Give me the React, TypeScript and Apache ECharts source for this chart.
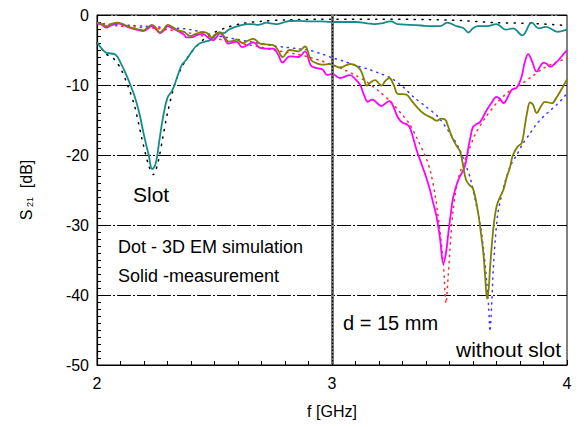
import React, { useEffect, useRef } from "react";
import * as echarts from "echarts";

// Slot – measurement (teal, solid)
const slotMeasF = [2.0, 2.02, 2.04, 2.06, 2.08, 2.1, 2.12, 2.14, 2.16, 2.18, 2.2, 2.22, 2.235, 2.25, 2.265, 2.28, 2.3, 2.32, 2.34, 2.36, 2.38, 2.4, 2.42, 2.44, 2.46, 2.48, 2.5, 2.52, 2.54, 2.56, 2.58, 2.6, 2.62, 2.64, 2.66, 2.68, 2.7, 2.72, 2.74, 2.76, 2.78, 2.8, 2.82, 2.86, 2.9, 2.95, 3.0, 3.05, 3.1, 3.15, 3.18, 3.21, 3.25, 3.28, 3.33, 3.38, 3.42, 3.46, 3.49, 3.53, 3.56, 3.58, 3.6, 3.62, 3.66, 3.7, 3.74, 3.77, 3.81, 3.85, 3.88, 3.91, 3.96, 4.0];
const slotMeasDb = [-3.9, -4.8, -5.4, -5.5, -5.7, -6.8, -8.2, -9.8, -11.6, -14.0, -17.2, -20.0, -22.0, -21.2, -18.0, -14.8, -11.8, -10.8, -9.0, -7.2, -6.4, -5.4, -4.5, -4.0, -3.8, -3.6, -3.0, -2.5, -2.6, -2.1, -1.8, -1.6, -1.4, -1.3, -1.3, -1.4, -1.3, -1.1, -1.2, -1.3, -1.2, -1.0, -0.86, -0.85, -0.9, -0.9, -1.0, -1.0, -1.0, -1.2, -1.3, -1.2, -0.9, -1.3, -1.4, -1.5, -1.6, -1.6, -1.1, -1.6, -1.9, -2.5, -1.9, -1.6, -1.6, -1.3, -2.1, -1.9, -2.9, -1.1, -1.9, -1.7, -2.4, -2.1];

// Slot – 3D EM simulation (black, dotted)
const slotSimF = [2.0, 2.04, 2.07, 2.1, 2.13, 2.16, 2.19, 2.22, 2.24, 2.26, 2.28, 2.3, 2.33, 2.36, 2.4, 2.45, 2.5, 2.55, 2.62, 2.7, 2.8, 3.0, 3.2, 3.4, 3.55, 3.7, 3.85, 4.0];
const slotSimDb = [-4.0, -5.6, -6.2, -7.6, -10.0, -13.0, -17.5, -21.5, -22.8, -21.0, -17.5, -14.0, -10.0, -7.5, -5.4, -3.6, -2.5, -1.8, -1.2, -0.9, -0.7, -0.6, -0.6, -0.65, -0.8, -1.1, -1.2, -1.5];

// Without slot – measurement (olive, solid)
const wsMeasF = [2.0, 2.02, 2.04, 2.06, 2.085, 2.11, 2.13, 2.155, 2.18, 2.197, 2.215, 2.233, 2.25, 2.268, 2.285, 2.3, 2.32, 2.346, 2.37, 2.396, 2.42, 2.45, 2.47, 2.488, 2.505, 2.523, 2.54, 2.56, 2.58, 2.594, 2.62, 2.64, 2.665, 2.694, 2.72, 2.75, 2.77, 2.79, 2.82, 2.857, 2.885, 2.91, 2.935, 2.96, 2.99, 3.034, 3.077, 3.1, 3.12, 3.135, 3.148, 3.165, 3.183, 3.2, 3.21, 3.227, 3.244, 3.26, 3.282, 3.3, 3.318, 3.34, 3.36, 3.38, 3.4, 3.425, 3.445, 3.465, 3.48, 3.495, 3.51, 3.53, 3.545, 3.555, 3.57, 3.585, 3.6, 3.62, 3.635, 3.644, 3.652, 3.66, 3.667, 3.672, 3.686, 3.7, 3.715, 3.729, 3.745, 3.757, 3.77, 3.79, 3.807, 3.82, 3.83, 3.843, 3.855, 3.871, 3.89, 3.906, 3.935, 3.955, 3.97, 3.985, 4.0];
const wsMeasDb = [-1.1, -1.3, -1.6, -1.3, -1.1, -1.3, -1.6, -1.9, -2.1, -2.2, -1.8, -1.4, -1.8, -2.5, -2.0, -1.4, -1.7, -2.2, -2.4, -3.0, -2.7, -2.4, -2.6, -3.2, -2.7, -2.5, -3.0, -3.8, -3.7, -3.5, -4.0, -3.7, -3.4, -4.1, -4.2, -4.3, -5.0, -6.0, -5.0, -5.2, -4.5, -6.4, -6.9, -7.1, -7.0, -7.5, -7.0, -7.2, -7.8, -9.0, -10.1, -9.6, -9.3, -9.8, -10.1, -9.4, -9.0, -9.8, -11.3, -11.3, -11.4, -12.3, -13.1, -13.8, -14.3, -14.7, -15.1, -14.8, -14.9, -16.0, -17.4, -18.7, -19.5, -21.0, -23.5, -24.3, -24.8, -27.9, -31.5, -34.0, -37.5, -40.5, -39.0, -36.4, -30.7, -27.4, -26.0, -25.0, -23.0, -21.8, -20.0, -18.8, -18.3, -16.0, -14.0, -12.5, -12.8, -14.0, -13.0, -12.4, -12.6, -11.8, -11.0, -10.1, -9.2];

// Without slot – simulation (blue, dotted)
const wsSimF = [2.0, 2.05, 2.1, 2.15, 2.2, 2.25, 2.3, 2.35, 2.4, 2.45, 2.5, 2.55, 2.6, 2.65, 2.7, 2.75, 2.8, 2.85, 2.9, 2.95, 3.0, 3.05, 3.1, 3.15, 3.2, 3.25, 3.3, 3.35, 3.4, 3.45, 3.5, 3.54, 3.57, 3.59, 3.61, 3.63, 3.645, 3.658, 3.667, 3.672, 3.68, 3.686, 3.695, 3.705, 3.72, 3.735, 3.76, 3.786, 3.81, 3.843, 3.87, 3.9, 3.93, 3.956, 3.98, 4.0];
const wsSimDb = [-1.2, -1.3, -1.4, -1.5, -1.6, -1.7, -1.8, -1.9, -2.1, -2.5, -2.9, -3.2, -3.5, -3.8, -4.1, -4.4, -4.6, -4.8, -5.0, -5.5, -6.1, -6.6, -7.2, -7.7, -8.3, -9.0, -10.2, -11.8, -13.1, -14.5, -16.8, -19.0, -21.5, -23.5, -26.5, -29.8, -33.5, -38.0, -42.0, -45.2, -41.0, -36.4, -32.0, -28.5, -26.0, -24.0, -21.5, -20.0, -18.5, -16.9, -15.6, -14.5, -13.6, -12.8, -12.0, -11.2];

// d = 15 mm – measurement (magenta, solid)
const d15MeasF = [2.0, 2.02, 2.04, 2.06, 2.085, 2.11, 2.13, 2.155, 2.18, 2.197, 2.215, 2.233, 2.25, 2.268, 2.285, 2.3, 2.32, 2.346, 2.37, 2.38, 2.4, 2.43, 2.45, 2.475, 2.495, 2.51, 2.523, 2.54, 2.56, 2.58, 2.594, 2.618, 2.64, 2.665, 2.694, 2.72, 2.75, 2.77, 2.79, 2.82, 2.857, 2.885, 2.91, 2.935, 2.96, 2.98, 3.0, 3.034, 3.077, 3.1, 3.12, 3.135, 3.153, 3.17, 3.18, 3.21, 3.244, 3.26, 3.28, 3.3, 3.318, 3.33, 3.345, 3.36, 3.38, 3.4, 3.417, 3.43, 3.445, 3.46, 3.474, 3.485, 3.495, 3.505, 3.516, 3.537, 3.56, 3.57, 3.58, 3.59, 3.6, 3.615, 3.63, 3.658, 3.68, 3.7, 3.715, 3.73, 3.75, 3.765, 3.786, 3.807, 3.82, 3.835, 3.85, 3.871, 3.885, 3.9, 3.915, 3.928, 3.95, 3.97, 3.985, 4.0];
const d15MeasDb = [-1.2, -1.4, -1.8, -1.5, -1.2, -1.4, -1.7, -2.0, -2.2, -2.3, -2.0, -1.6, -2.0, -2.6, -2.2, -1.6, -1.9, -2.3, -2.8, -3.2, -3.2, -2.8, -2.7, -3.3, -3.6, -3.1, -2.6, -3.2, -4.1, -3.9, -3.8, -4.6, -4.3, -3.9, -4.7, -4.8, -4.8, -5.6, -6.8, -5.9, -6.0, -5.2, -7.2, -7.6, -7.8, -8.6, -8.4, -9.0, -8.6, -9.2, -10.0, -11.3, -12.4, -12.1, -12.2, -13.0, -12.3, -13.0, -14.6, -15.4, -15.6, -16.0, -17.5, -19.3, -21.2, -23.1, -25.0, -26.8, -28.8, -32.0, -35.5, -34.0, -31.2, -28.5, -26.0, -23.6, -22.1, -21.0, -19.0, -17.3, -16.0, -15.6, -15.3, -13.6, -12.5, -11.7, -12.0, -12.6, -11.6, -10.7, -10.4, -8.8, -6.8, -5.6, -6.5, -8.1, -7.4, -6.8, -7.0, -7.4, -6.9, -6.2, -5.6, -5.0];

// d = 15 mm – simulation (red, dotted)
const d15SimF = [2.0, 2.05, 2.1, 2.15, 2.2, 2.25, 2.3, 2.35, 2.4, 2.45, 2.5, 2.55, 2.6, 2.65, 2.7, 2.75, 2.8, 2.85, 2.9, 2.95, 3.0, 3.05, 3.1, 3.15, 3.2, 3.25, 3.3, 3.33, 3.36, 3.4, 3.42, 3.44, 3.46, 3.475, 3.485, 3.495, 3.505, 3.515, 3.53, 3.55, 3.58, 3.61, 3.65, 3.7, 3.75, 3.8, 3.85, 3.9, 3.95, 4.0];
const d15SimDb = [-1.2, -1.4, -1.6, -1.7, -1.8, -1.9, -2.1, -2.3, -2.6, -3.0, -3.3, -3.7, -4.0, -4.3, -4.6, -5.0, -5.3, -5.6, -6.0, -6.5, -7.1, -7.8, -8.6, -9.6, -10.9, -12.4, -14.3, -15.6, -17.5, -20.4, -22.5, -26.0, -31.0, -36.0, -41.2, -37.0, -32.0, -28.0, -24.5, -22.0, -19.5, -17.0, -14.8, -12.6, -11.0, -10.0, -8.8, -7.6, -6.8, -6.2];

const xTicks = [2, 3, 4];
const yTicks = [0, -10, -20, -30, -40, -50];
const markerF = 3;

const zip = (f: number[], v: number[]) => f.map((x, i) => [x, v[i]]);

const FONT = "'Liberation Sans', Arial, sans-serif";

export default function App() {
  const ref = useRef<HTMLDivElement>(null);
  useEffect(() => {
    if (!ref.current) return;
    const chart = echarts.init(ref.current, undefined, { renderer: "svg" });
    const dotted = (color: string, f: number[], v: number[], dash: number[]) => ({
      type: "line",
      data: zip(f, v),
      showSymbol: false,
      smooth: 0.3,
      lineStyle: { color, width: 1.5, type: dash, cap: "round" },
      z: 3,
    });
    const solid = (color: string, f: number[], v: number[]) => ({
      type: "line",
      data: zip(f, v),
      showSymbol: false,
      smooth: 0.4,
      lineStyle: { color, width: 1.8 },
      z: 4,
    });
    const label = (text: string, x: number, y: number, size: number) => ({
      type: "text",
      x,
      y,
      z: 10,
      style: {
        text,
        fontSize: size,
        fill: "#000",
        fontFamily: FONT,
        align: "left",
        verticalAlign: "middle",
      },
    });
    chart.setOption({
      animation: false,
      textStyle: { fontFamily: FONT },
      grid: {
        left: 97,
        right: 19,
        top: 15,
        bottom: 62,
        show: true,
        borderColor: "#000",
        borderWidth: 1,
        backgroundColor: "transparent",
      },
      xAxis: {
        type: "value",
        min: xTicks[0],
        max: xTicks[xTicks.length - 1],
        interval: 1,
        name: "f [GHz]",
        nameLocation: "middle",
        nameGap: 38,
        nameTextStyle: { fontSize: 16, color: "#000", fontFamily: FONT },
        axisLine: { onZero: false, lineStyle: { color: "#000", width: 1.2 } },
        axisTick: { show: true, inside: true, length: 5, lineStyle: { color: "#000" } },
        minorTick: { show: true, splitNumber: 10, length: 4, lineStyle: { color: "#000" } },
        axisLabel: { fontSize: 16, color: "#000", margin: 10, fontFamily: FONT },
        splitLine: { show: false },
      },
      yAxis: {
        type: "value",
        min: yTicks[yTicks.length - 1],
        max: yTicks[0],
        interval: 10,
        name: "{s|S}{sub| 21}{s|  [dB]}",
        nameLocation: "middle",
        nameGap: 63,
        nameTextStyle: {
          color: "#000",
          fontFamily: FONT,
          rich: {
            s: { fontSize: 16, color: "#000", fontFamily: FONT, verticalAlign: "bottom", lineHeight: 18 },
            sub: { fontSize: 9, color: "#000", fontFamily: FONT, verticalAlign: "bottom", lineHeight: 14 },
          },
        },
        axisLine: { onZero: false, lineStyle: { color: "#000", width: 1.2 } },
        axisTick: { show: true, inside: true, length: 5, lineStyle: { color: "#000" } },
        minorTick: { show: true, splitNumber: 10, length: 4, lineStyle: { color: "#000" } },
        axisLabel: { fontSize: 16, color: "#000", margin: 8, fontFamily: FONT },
        splitLine: {
          show: true,
          lineStyle: { color: "#000", width: 1.2, type: [14, 2, 2, 2] },
        },
      },
      series: [
        dotted("#000000", slotSimF, slotSimDb, [1.2, 6.5]),
        dotted("#3a3aff", wsSimF, wsSimDb, [1.2, 5]),
        dotted("#ff2a2a", d15SimF, d15SimDb, [1.2, 5]),
        solid("#148c8c", slotMeasF, slotMeasDb),
        solid("#ff00ff", d15MeasF, d15MeasDb),
        {
          ...solid("#808000", wsMeasF, wsMeasDb),
          markLine: {
            silent: true,
            symbol: "none",
            label: { show: false },
            data: [
              { xAxis: markerF, lineStyle: { color: "#777", width: 3, type: "solid" } },
              { xAxis: markerF, lineStyle: { color: "#000", width: 1.2, type: [1.5, 2] } },
            ],
          },
        },
      ],
      graphic: [
        label("Slot", 133, 194, 21),
        label("Dot - 3D EM simulation", 118, 247, 18),
        label("Solid -measurement", 118, 276, 18),
        label("d = 15 mm", 343, 323, 20),
        label("without slot", 456, 349, 21),
      ],
    });
    return () => chart.dispose();
  }, []);
  return (
    <div
      ref={ref}
      style={{ position: "absolute", left: 0, top: 0, width: 586, height: 427 }}
    />
  );
}
